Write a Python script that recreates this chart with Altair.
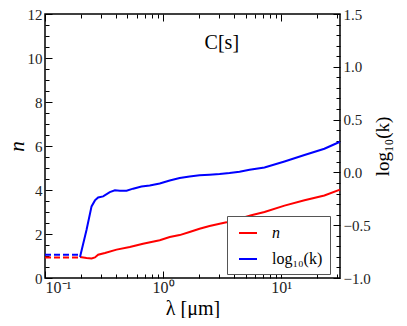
import altair as alt
import pandas as pd

# ---- data ----
n_wl = [0.198, 0.225, 0.248, 0.265, 0.282, 0.322, 0.404, 0.523, 0.677, 0.938, 1.14, 1.384,
        1.68, 2.04, 2.48, 3.02, 3.45, 4.45, 5.6, 7.24, 10.7, 15.8, 23.3, 31.6]
n_val = [0.955, 0.909, 0.891, 0.936, 1.06, 1.14, 1.29, 1.41, 1.56, 1.72, 1.86, 1.95,
         2.09, 2.24, 2.36, 2.47, 2.53, 2.70, 2.85, 3.0, 3.29, 3.53, 3.75, 4.02]

k_wl = [0.198, 0.225, 0.248, 0.265, 0.282, 0.311, 0.354, 0.391, 0.431, 0.491, 0.558, 0.657,
        0.772, 0.938, 1.14, 1.384, 1.68, 2.04, 2.48, 3.02, 3.66, 4.45, 5.41, 7.24, 10.7,
        15.8, 23.3, 31.6]
k_val = [-0.801, -0.543, -0.322, -0.265, -0.237, -0.227, -0.186, -0.170, -0.173, -0.173,
         -0.154, -0.133, -0.123, -0.105, -0.076, -0.053, -0.038, -0.028, -0.022, -0.015,
         -0.006, 0.007, 0.026, 0.047, 0.104, 0.165, 0.224, 0.29]

ext_wl = [0.1, 0.198]
ext_n = [0.936, 0.936]
ext_k = [-0.779, -0.779]

series_names = ["n", "log₁₀(k)"]
series_colors = ["#ff0000", "#0000ff"]

x_major = [0.1, 1, 10]
x_major_labels = ["10⁻¹", "10⁰", "10¹"]
x_minor = [0.2, 0.3, 0.4, 0.5, 0.6, 0.7, 0.8, 0.9, 2, 3, 4, 5, 6, 7, 8, 9, 20, 30]
x_domain = [0.1, 31.6]

n_major = [0, 2, 4, 6, 8, 10, 12]
n_minor = [0.5, 1, 1.5, 2.5, 3, 3.5, 4.5, 5, 5.5, 6.5, 7, 7.5, 8.5, 9, 9.5, 10.5, 11, 11.5]
n_domain = [0, 12]

k_major = [-1.0, -0.5, 0.0, 0.5, 1.0, 1.5]
k_minor = [-0.9, -0.8, -0.7, -0.6, -0.4, -0.3, -0.2, -0.1, 0.1, 0.2, 0.3, 0.4,
           0.6, 0.7, 0.8, 0.9, 1.1, 1.2, 1.3, 1.4]
k_domain = [-1.0, 1.5]

annot_text = ["C[s]"]
annot_wl = [3.15]
annot_n = [10.7]

# ---- tables ----
df_n = pd.DataFrame({"wl": n_wl, "v": n_val, "series": series_names[0]})
df_k = pd.DataFrame({"wl": k_wl, "v": k_val, "series": series_names[1]})
df_en = pd.DataFrame({"wl": ext_wl, "v": ext_n})
df_ek = pd.DataFrame({"wl": ext_wl, "v": ext_k})
df_t = pd.DataFrame({"wl": annot_wl, "v": annot_n, "t": annot_text})

FONT = "Liberation Serif"
xscale = alt.Scale(type="log", domain=x_domain, nice=False)
nscale = alt.Scale(domain=n_domain, nice=False, zero=False)
kscale = alt.Scale(domain=k_domain, nice=False, zero=False)
cscale = alt.Scale(domain=series_names, range=series_colors)

MAJ = alt.ExprRef(expr="-7")
MIN = alt.ExprRef(expr="-4")

lab_expr = " : ".join(
    [f"abs(log(datum.value)/log(10) - ({i}))<0.01 ? '{l}'" for i, l in zip([-1, 0, 1], x_major_labels)]
) + " : ''"

common = dict(labelFont=FONT, titleFont=FONT, labelColor="#222", titleColor="black",
              titleFontWeight="normal")

ax_bottom_major = alt.Axis(orient="bottom", values=x_major, labelExpr=lab_expr, title="λ [μm]",
                           tickSize=MAJ, labelPadding=8, titlePadding=3, titleFontSize=20,
                           labelFontSize=16, **common)
ax_bottom_minor = alt.Axis(orient="bottom", values=x_minor, labels=False, title=None, tickSize=MIN)
ax_top_major = alt.Axis(orient="top", values=x_major, labels=False, title=None, tickSize=MAJ)
ax_top_minor = alt.Axis(orient="top", values=x_minor, labels=False, title=None, tickSize=MIN)

ax_left_major = alt.Axis(orient="left", values=n_major, format="d", title="n",
                         titleFontStyle="italic", tickSize=MAJ, labelPadding=10,
                         titleX=-18, titleY=132, titleFontSize=21, labelFontSize=15, **common)
ax_left_minor = alt.Axis(orient="left", values=n_minor, labels=False, title=None, tickSize=MIN)

ax_right_major = alt.Axis(orient="right", values=k_major, format=".1f", title="log₁₀(k)",
                          titleAngle=270, tickSize=MAJ, labelPadding=10, titlePadding=22,
                          titleFontSize=19, labelFontSize=15, **common)
ax_right_minor = alt.Axis(orient="right", values=k_minor, labels=False, title=None, tickSize=MIN)

legend = alt.Legend(title=None, orient="none", legendX=182, legendY=202,
                    fillColor="white", strokeColor="#555", padding=7,
                    symbolType="stroke", symbolStrokeWidth=2, symbolSize=324,
                    symbolOffset=4, labelOffset=14, labelFont=FONT, labelFontSize=16,
                    labelColor="black", rowPadding=8,
                    labelFontStyle=alt.ExprRef(expr="datum.label == 'n' ? 'italic' : 'normal'"))

def X(axis):
    return alt.X("wl:Q", scale=xscale, axis=axis)

red_dash = alt.Chart(df_en).mark_line(color=series_colors[0], strokeWidth=2, strokeDash=[6, 3]).encode(
    x=X(ax_bottom_major), y=alt.Y("v:Q", scale=nscale, axis=ax_left_major))
red_line = alt.Chart(df_n).mark_line(strokeWidth=2).encode(
    x=X(ax_bottom_minor), y=alt.Y("v:Q", scale=nscale, axis=ax_left_minor),
    color=alt.Color("series:N", scale=cscale, legend=legend))
annot = alt.Chart(df_t).mark_text(font=FONT, fontSize=20, color="black").encode(
    x=X(ax_top_major), y=alt.Y("v:Q", scale=nscale, axis=None), text="t:N")
left = alt.layer(red_dash, red_line, annot).resolve_axis(x="independent", y="independent")

blue_dash = alt.Chart(df_ek).mark_line(color=series_colors[1], strokeWidth=2, strokeDash=[6, 3]).encode(
    x=X(ax_top_minor), y=alt.Y("v:Q", scale=kscale, axis=ax_right_major))
blue_line = alt.Chart(df_k).mark_line(strokeWidth=2).encode(
    x=X(None), y=alt.Y("v:Q", scale=kscale, axis=ax_right_minor),
    color=alt.Color("series:N", scale=cscale, legend=legend))
right = alt.layer(blue_dash, blue_line).resolve_axis(x="independent", y="independent")

chart = alt.layer(left, right).resolve_scale(y="independent").resolve_axis(
    x="independent", y="independent"
).properties(
    width=295, height=264, autosize="none",
    padding={"left": 37, "top": 6, "right": 59, "bottom": 40},
).configure_axis(
    grid=False, domain=False, tickColor="black", tickWidth=1,
).configure_view(stroke="black", strokeWidth=1.5)

chart.save("out.html", embed_options={"renderer": "svg", "actions": False})
